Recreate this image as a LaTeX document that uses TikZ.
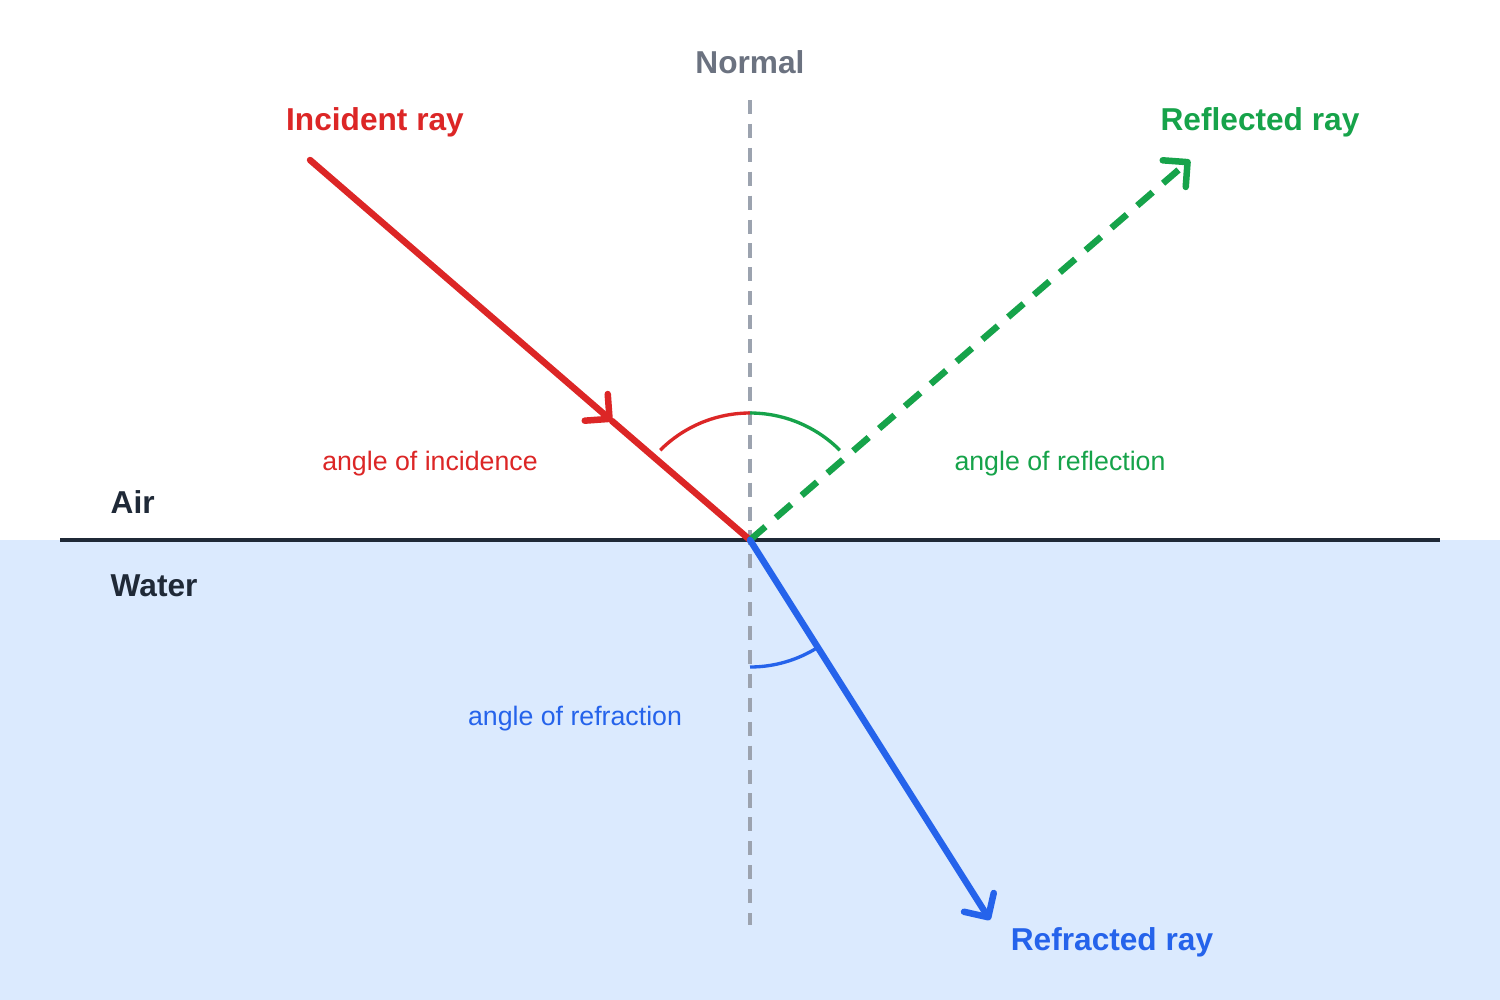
\documentclass[tikz,border=0pt]{standalone}
\usepackage{fontspec}
\setmainfont{Liberation Sans}
\usetikzlibrary{arrows.meta}

\definecolor{rayred}{HTML}{DC2626}
\definecolor{raygreen}{HTML}{16A34A}
\definecolor{rayblue}{HTML}{2563EB}
\definecolor{normalgray}{HTML}{9CA3AF}
\definecolor{labelgray}{HTML}{6B7280}
\definecolor{darkink}{HTML}{1F2937}
\definecolor{waterblue}{HTML}{DBEAFE}

\begin{document}
\begin{tikzpicture}[
  x=0.01cm, y=-0.01cm,
  ray/.style={line width=1.85pt, line cap=round},
  tip/.style={-{Straight Barb[length=5pt, width=10pt, round]}},
  anglearc/.style={line width=0.95pt},
  title/.style={font=\fontsize{9}{11}\selectfont\bfseries},
  small/.style={font=\fontsize{7.6}{9}\selectfont}
]
  % background and water
  \useasboundingbox (0,0) rectangle (1500,1000);
  \fill[white] (0,0) rectangle (1500,540);
  \fill[waterblue] (0,540) rectangle (1500,1000);

  \coordinate (o) at (750,540);
  \coordinate (inc) at (310,160);
  \coordinate (mid) at (612,421);
  \coordinate (refl) at (1190,160);
  \coordinate (refr) at (990,920);
  \coordinate (ntop) at (750,100);
  \coordinate (nbot) at (750,925);
  \coordinate (sl) at (60,540);
  \coordinate (sr) at (1440,540);

  % normal and surface
  \draw[normalgray, line width=1.4pt, dash pattern=on 4pt off 2.8pt] (ntop) -- (nbot);
  \draw[darkink, line width=1.4pt] (sl) -- (sr);

  % rays
  \draw[ray, rayred, tip] (inc) -- (mid);
  \draw[ray, rayred] (mid) -- (o);
  \draw[ray, raygreen, tip, dash pattern=on 5.8pt off 3.9pt, line cap=butt] (o) -- (refl);
  \draw[ray, rayblue, tip] (o) -- (refr);

  % angle arcs (y axis points down, so angles run clockwise)
  \draw[anglearc, rayred] ([shift={(-135:127)}]o) arc[start angle=-135, end angle=-90, radius=127];
  \draw[anglearc, raygreen] ([shift={(-90:127)}]o) arc[start angle=-90, end angle=-45, radius=127];
  \draw[anglearc, rayblue] ([shift={(90:127)}]o) arc[start angle=90, end angle=57.7, radius=127];

  % labels
  \node[title, labelgray] (lnormal) at (750,62) {Normal};
  \node[title, rayred] (linc) at (375,122) {Incident ray};
  \node[title, raygreen] (lrefl) at (1260,122) {Reflected ray};
  \node[title, rayblue] (lrefr) at (1112,942) {Refracted ray};
  \node[small, rayred] (ainc) at (430,464) {angle of incidence};
  \node[small, raygreen] (arefl) at (1060,464) {angle of reflection};
  \node[small, rayblue] (arefr) at (575,719) {angle of refraction};
  \node[title, darkink, anchor=west, inner sep=0pt] (air) at (110,502) {Air};
  \node[title, darkink, anchor=west, inner sep=0pt] (water) at (110,586) {Water};
\end{tikzpicture}
\end{document}
